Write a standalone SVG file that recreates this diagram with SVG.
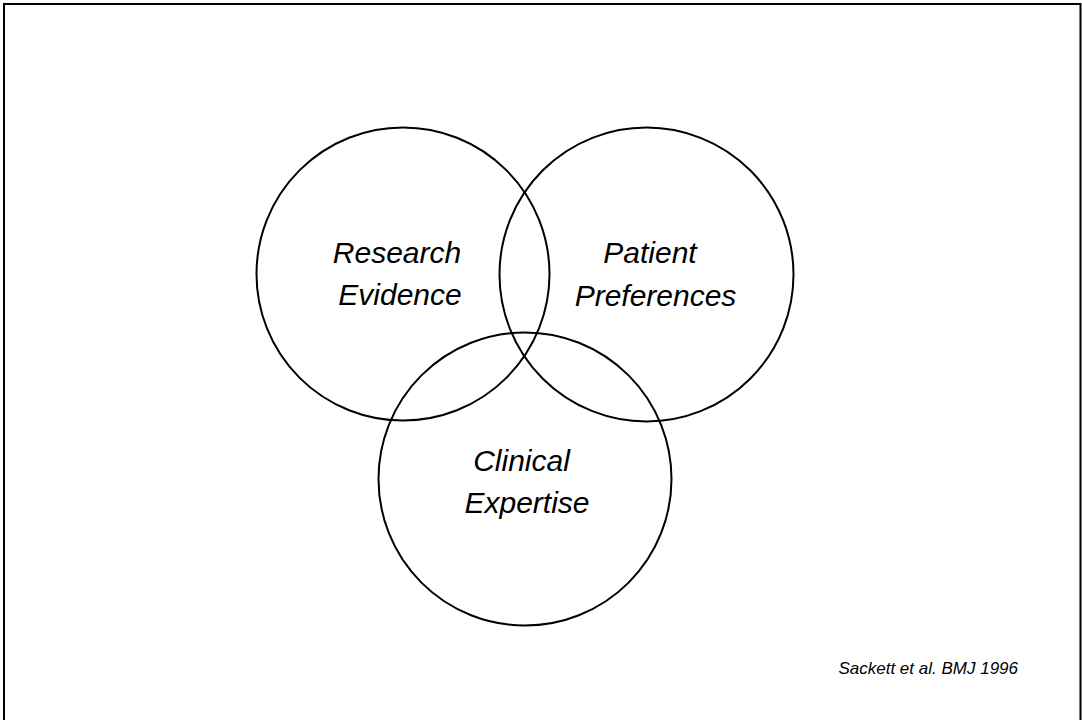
<svg xmlns="http://www.w3.org/2000/svg" width="1082" height="720" viewBox="0 0 1082 720">
<style>
.c{fill:none;stroke:#000;stroke-width:2}
.t{font-family:"Liberation Sans",Arial,sans-serif;font-style:italic;font-size:30px;fill:#000;text-anchor:middle}
.cite{font-family:"Liberation Sans",Arial,sans-serif;font-style:italic;font-size:17px;fill:#000;text-anchor:end}
</style>
<rect x="0" y="0" width="1082" height="720" fill="#fff"/>
<path d="M4,740 V4 H1080.5 V740" fill="none" stroke="#000" stroke-width="2"/>
<g id="research">
<circle class="c" cx="403" cy="274" r="146.5"/>
<text class="t" x="397" y="262.5">Research</text>
<text class="t" x="400" y="305">Evidence</text>
</g>
<g id="patient">
<circle class="c" cx="646.5" cy="274.5" r="147"/>
<text class="t" x="650" y="263.3">Patient</text>
<text class="t" x="655.5" y="306">Preferences</text>
</g>
<g id="clinical">
<circle class="c" cx="525" cy="479" r="146.5"/>
<text class="t" x="521.5" y="470.7">Clinical</text>
<text class="t" x="527" y="513.3">Expertise</text>
</g>
<g id="connectors"></g>
<text class="cite" x="1018" y="674">Sackett et al. BMJ 1996</text>
</svg>
